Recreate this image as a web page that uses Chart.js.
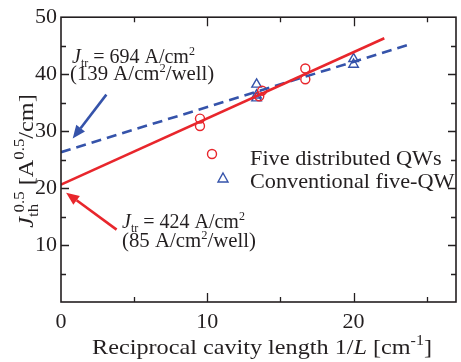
<!DOCTYPE html>
<html><head><meta charset="utf-8">
<script src="https://cdn.jsdelivr.net/npm/chart.js@4.4.1/dist/chart.umd.min.js"></script>
<style>html,body{margin:0;padding:0;background:#fff;overflow:hidden}#wrap{width:463px;height:362px;position:relative}</style>
</head><body><div id="wrap"><canvas id="c"></canvas></div>
<script>
// ---- data ----
const distX = [9.5, 9.5, 13.55, 13.75, 16.7, 16.7];
const distY = [32.2, 30.9, 36.1, 37.1, 41.0, 39.1];
const convX = [13.37, 13.37, 13.37, 20.0, 20.0];
const convY = [38.2, 36.3, 35.8, 42.7, 41.7];
const distFitX = [0, 22.1];
const distFitY = [20.6, 46.3];
const convFitX = [0, 23.8];
const convFitY = [26.3, 45.2];
const xTickLabels = [0, 10, 20];
const yTickLabels = [10, 20, 30, 40, 50];
const seriesNames = ['Five distributed QWs', 'Conventional five-QW'];

const RED = '#e8262c', BLUE = '#3553aa', INK = '#231f20';
const SERIF = '"Liberation Serif", "Times New Roman", serif';
const pts = (xs, ys) => xs.map((x, i) => ({x, y: ys[i]}));

function rich(ctx, segs, x, y, size, align, stretch, smallRatio, color) {
  const sm = size * (smallRatio || 0.66);
  const k = stretch || 1;
  const fontFor = s => (s.it ? 'italic ' : '') + (s.sub || s.sup ? sm : size) + 'px ' + SERIF;
  let w = 0, lastStart = 0;
  const lay = [];
  for (const s of segs) {
    ctx.font = fontFor(s);
    const sw = ctx.measureText(s.t).width;
    let sx = w;
    if (s.stack) sx = lastStart + (s.stackOff || 0);
    lay.push({s, sx, sw});
    lastStart = sx;
    w = Math.max(w, sx + sw);
  }
  w *= k;
  let x0 = x;
  if (align === 'center') x0 = x - w / 2;
  else if (align === 'right') x0 = x - w;
  ctx.save();
  ctx.translate(x0, y);
  ctx.scale(k, 1);
  ctx.fillStyle = color || INK;
  ctx.textAlign = 'left';
  ctx.textBaseline = 'alphabetic';
  for (const l of lay) {
    ctx.font = fontFor(l.s);
    let dy = 0;
    if (l.s.sub) dy = size * 0.22;
    if (l.s.sup) dy = -size * 0.42;
    ctx.fillText(l.s.t, l.sx, dy);
  }
  ctx.restore();
}

function arrow(ctx, x1, y1, x2, y2, color) {
  const ang = Math.atan2(y2 - y1, x2 - x1);
  const hl = 13, hw = 5.5;
  const bx = x2 - hl * Math.cos(ang), by = y2 - hl * Math.sin(ang);
  ctx.strokeStyle = color; ctx.fillStyle = color; ctx.lineWidth = 2.6;
  ctx.beginPath(); ctx.moveTo(x1, y1); ctx.lineTo(bx, by); ctx.stroke();
  ctx.beginPath();
  ctx.moveTo(x2, y2);
  ctx.lineTo(bx + hw * Math.sin(ang), by - hw * Math.cos(ang));
  ctx.lineTo(bx - hw * Math.sin(ang), by + hw * Math.cos(ang));
  ctx.closePath(); ctx.fill();
}

const decor = {
  id: 'decor',
  afterDraw(chart) {
    const ctx = chart.ctx, a = chart.chartArea;
    const xs = chart.scales.x, ys = chart.scales.y;
    ctx.save();
    // frame
    ctx.strokeStyle = INK; ctx.lineWidth = 1.6;
    ctx.strokeRect(a.left, a.top, a.right - a.left, a.bottom - a.top);
    // inward ticks
    ctx.lineWidth = 1.3;
    ctx.beginPath();
    for (let v = 5; v < xs.max; v += 5) {
      const px = Math.round(xs.getPixelForValue(v)) + 0.5;
      const L = v % 10 === 0 ? 9 : 5;
      ctx.moveTo(px, a.bottom); ctx.lineTo(px, a.bottom - L);
      ctx.moveTo(px, a.top); ctx.lineTo(px, a.top + L);
    }
    for (let v = 5; v < ys.max; v += 5) {
      const py = Math.round(ys.getPixelForValue(v)) + 0.5;
      const L = v % 10 === 0 ? 8 : 5;
      ctx.moveTo(a.left, py); ctx.lineTo(a.left + L, py);
      ctx.moveTo(a.right, py); ctx.lineTo(a.right - L, py);
    }
    ctx.stroke();

    // x title
    rich(ctx, [{t: 'Reciprocal cavity length 1/'}, {t: 'L', it: true}, {t: ' [cm'}, {t: '-1', sup: true}, {t: ']'}],
      262, 354, 22, 'center', 1.1);
    // y title (rotated)
    ctx.save();
    ctx.translate(33, 161);
    ctx.rotate(-Math.PI / 2);
    rich(ctx, [{t: 'J', it: true}, {t: 'th', sub: true}, {t: '0.5', sup: true, stack: true, stackOff: 4}, {t: ' [A'}, {t: '0.5', sup: true}, {t: '/cm]'}],
      0, 0, 22, 'center', 1.1, 0.7);
    ctx.restore();

    // annotations
    const F = 20;
    rich(ctx, [{t: 'J', it: true}, {t: 'tr', sub: true}, {t: ' = 694 A/cm'}, {t: '2', sup: true}], 72, 63, F, 'left', 1.0, 0.6);
    rich(ctx, [{t: '(139 A/cm'}, {t: '2', sup: true}, {t: '/well)'}], 70, 80, F, 'left', 1.04, 0.6);
    rich(ctx, [{t: 'J', it: true}, {t: 'tr', sub: true}, {t: ' = 424 A/cm'}, {t: '2', sup: true}], 122, 228, F, 'left', 1.0, 0.6);
    rich(ctx, [{t: '(85 A/cm'}, {t: '2', sup: true}, {t: '/well)'}], 122, 247, F, 'left', 1.04, 0.6);

    // arrows (anchored in data coordinates)
    arrow(ctx, xs.getPixelForValue(3.1), ys.getPixelForValue(36.4), xs.getPixelForValue(0.8), ys.getPixelForValue(28.7), BLUE);
    arrow(ctx, xs.getPixelForValue(3.8), ys.getPixelForValue(12.7), xs.getPixelForValue(0.35), ys.getPixelForValue(19.2), RED);

    // legend
    ctx.lineWidth = 1.4;
    ctx.strokeStyle = RED;
    ctx.beginPath(); ctx.arc(212, 154, 4.5, 0, Math.PI * 2); ctx.stroke();
    ctx.strokeStyle = BLUE;
    ctx.beginPath(); ctx.moveTo(223, 173); ctx.lineTo(228, 182); ctx.lineTo(218, 182); ctx.closePath(); ctx.stroke();
    rich(ctx, [{t: seriesNames[0]}], 250, 165, 21, 'left', 1.06);
    rich(ctx, [{t: seriesNames[1]}], 250, 188, 21, 'left', 1.06);
    ctx.restore();
  }
};

new Chart(document.getElementById('c'), {
  type: 'scatter',
  data: {
    datasets: [
      {label: 'fit-dist', type: 'line', data: pts(distFitX, distFitY), borderColor: RED, borderWidth: 2.6, pointRadius: 0, fill: false},
      {label: 'fit-conv', type: 'line', data: pts(convFitX, convFitY), borderColor: BLUE, borderWidth: 2.6, borderDash: [10, 6], pointRadius: 0, fill: false},
      {label: seriesNames[0], data: pts(distX, distY), pointStyle: 'circle', pointRadius: 4.5, borderColor: RED, backgroundColor: 'rgba(0,0,0,0)', borderWidth: 1.4},
      {label: seriesNames[1], data: pts(convX, convY), pointStyle: 'triangle', pointRadius: 5.5, borderColor: BLUE, backgroundColor: 'rgba(0,0,0,0)', borderWidth: 1.4}
    ]
  },
  options: {
    responsive: true, maintainAspectRatio: false, animation: false, devicePixelRatio: 1,
    layout: {padding: {top: 15, right: 1, left: 0, bottom: 0}},
    plugins: {legend: {display: false}, tooltip: {enabled: false}},
    scales: {
      x: {
        type: 'linear', min: 0, max: 27,
        grid: {display: false, drawTicks: false}, border: {display: false},
        ticks: {stepSize: 5, padding: 7, color: INK, font: {family: SERIF, size: 22},
          callback: v => xTickLabels.includes(v) ? String(v) : ''},
        afterFit: s => { s.height = 60; }
      },
      y: {
        type: 'linear', min: 0, max: 50,
        grid: {display: false, drawTicks: false}, border: {display: false},
        ticks: {stepSize: 5, padding: 4, color: INK, font: {family: SERIF, size: 22},
          callback: v => yTickLabels.includes(v) ? String(v) : ''},
        afterFit: s => { s.width = 61; }
      }
    }
  },
  plugins: [decor]
});
</script>
</body></html>
